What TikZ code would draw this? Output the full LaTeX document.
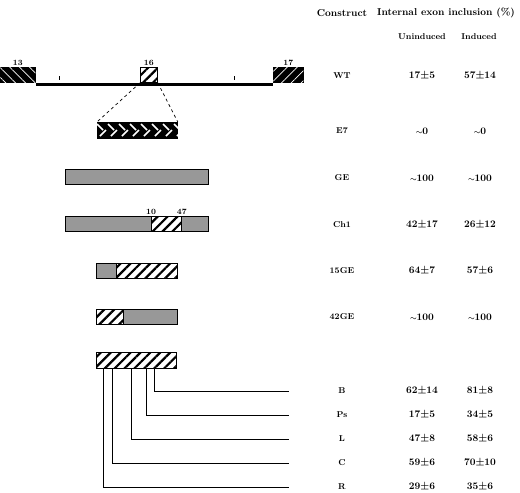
\documentclass[tikz,border=0pt]{standalone}
\usetikzlibrary{patterns.meta,calc,positioning}
\definecolor{bargray}{RGB}{152,152,152}
\newcommand{\approxsym}{\scalebox{0.75}{$\sim$}}

\begin{document}
\begin{tikzpicture}[
  x=1pt, y=-1pt,
  font=\bfseries\boldmath,
  bar/.style={draw, line width=0.8pt, inner sep=0pt, minimum height=15pt, anchor=north west},
  graybar/.style={bar, fill=bargray},
  hatchbar/.style={bar, fill=white, postaction={pattern={Lines[angle=45,distance=7pt,line width=2.2pt]}, pattern color=black}},
  exonbar/.style={bar, fill=black, postaction={pattern={Lines[angle=#1,distance=7pt,line width=0.7pt]}, pattern color=white}},
  numlab/.style={font=\bfseries\footnotesize, inner sep=1pt},
  rowlab/.style={font=\bfseries\fontsize{8.5}{10}\selectfont},
  sublab/.style={font=\bfseries\fontsize{8.5}{10}\selectfont},
  lead/.style={line width=0.7pt}
]
\useasboundingbox (0,0) rectangle (520,493);

% headers
\node (hcon) at (342,13) {Construct};
\node (hinc) at (446,13) {Internal exon inclusion (\%)};
\node[sublab] (hun) at (422,37) {Uninduced};
\node[sublab] (hin) at (479,37) {Induced};

% wild type minigene
\node[exonbar=-45, minimum width=35pt] (e13) at (0,67) {};
\node[exonbar=45, minimum width=30pt] (e17) at (273,67) {};
\draw[line width=2.5pt] ([yshift=-1.5pt]e13.south east) -- ([yshift=-1.5pt]e17.south west);
\foreach \x in {59,234}
  \draw[line width=0.7pt] (\x,76) -- (\x,80);
\node[hatchbar, minimum width=17pt] (e16) at (140,67) {};
\node[numlab, above=0pt of e13] (n13) {13};
\node[numlab, above=0pt of e16] (n16) {16};
\node[numlab, above=0pt of e17] (n17) {17};

% E7 insert
\node[bar, fill=black, minimum width=80pt, minimum height=16pt] (e7) at (97,122) {};
\begin{scope}
  \clip (e7.north west) rectangle (e7.south east);
  \foreach \i in {0,...,7} {
    \draw[white, line width=1.6pt] (97+\i*11,124) -- (103+\i*11,130);
    \draw[white, line width=1.6pt] (100+\i*11,136) -- (106+\i*11,130);
  }
\end{scope}
\draw[lead, dashed] (e16.south west) -- (e7.north west);
\draw[lead, dashed] (e16.south east) -- (e7.north east);

% GE
\node[graybar, minimum width=143pt] (ge) at (65,169) {};

% Ch1
\node[graybar, minimum width=143pt] (ch1) at (65,216) {};
\node[hatchbar, minimum width=30pt] (ch1h) at (151,216) {};
\node[numlab, above=0pt of ch1h.north west] (n10) {10};
\node[numlab, above=0pt of ch1h.north east] (n47) {47};

% 15GE
\node[graybar, minimum width=20pt] (g15) at (96,263) {};
\node[hatchbar, minimum width=61pt] (h15) at (116,263) {};

% 42GE
\node[hatchbar, minimum width=27pt] (h42) at (96,309) {};
\node[graybar, minimum width=54pt] (g42) at (123,309) {};

% full insert with mutants
\node[hatchbar, minimum width=80pt, minimum height=16pt] (full) at (96,352) {};

% table rows
\foreach \name/\y/\un/\ind in {
    WT/76/17$\pm$5/57$\pm$14,
    E7/131/\approxsym0/\approxsym0,
    GE/178/\approxsym100/\approxsym100,
    Ch1/225/42$\pm$17/26$\pm$12,
    15GE/271/64$\pm$7/57$\pm$6,
    42GE/317/\approxsym100/\approxsym100,
    B/391/62$\pm$14/81$\pm$8,
    Ps/415/17$\pm$5/34$\pm$5,
    L/439/47$\pm$8/58$\pm$6,
    C/463/59$\pm$6/70$\pm$10,
    R/487/29$\pm$6/35$\pm$6} {
  \node[rowlab] (lab-\name) at (342,\y) {\name};
  \node (un-\name) at (422,\y) {\un};
  \node (in-\name) at (480,\y) {\ind};
}

\coordinate (xend) at (289,0);
\foreach \name/\dx in {B/58,Ps/50,L/35,C/16,R/7} {
  \coordinate (end-\name) at (lab-\name -| xend);
  \draw[lead] ([xshift=\dx pt]full.south west) |- (end-\name);
}
\end{tikzpicture}
\end{document}
